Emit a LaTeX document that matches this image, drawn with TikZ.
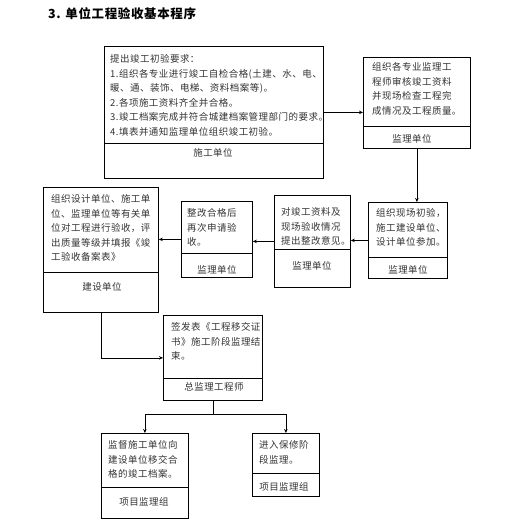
\documentclass[tikz,border=0pt]{standalone}
\usepackage{fontspec}
\newfontfamily\cjk[LetterSpace=5]{Noto Sans CJK SC}
\usetikzlibrary{arrows.meta}

\tikzset{
  stagebox/.style={draw, rectangle, anchor=north west, inner sep=0pt, line width=0.8pt},
  stagetext/.style={anchor=north west, inner sep=0pt, align=left, text=black!80,
    font=\cjk\fontsize{9.5}{14.5}\selectfont},
  unitlabel/.style={inner sep=0pt, text=black!80, font=\cjk\fontsize{9.5}{11}\selectfont},
  flow/.style={-{Stealth[length=4pt, width=3.5pt]}, line width=0.7pt},
}

\begin{document}
\begin{tikzpicture}[x=1pt, y=-1pt]
    \useasboundingbox (0,0) rectangle (505,524);

    % title
    \node[anchor=west, inner sep=0pt, font=\cjk\bfseries\fontsize{12.5}{14}\selectfont]
        (title) at (48,14) {3. 单位工程验收基本程序};

    % boxes
    \node[stagebox, minimum width=219, minimum height=132] (sg) at (104,46) {};
    \node[stagebox, minimum width=107, minimum height=91] (jl) at (363,57) {};
    \node[stagebox, minimum width=79, minimum height=76] (cy) at (368,202) {};
    \node[stagebox, minimum width=76, minimum height=92] (zg) at (274,195) {};
    \node[stagebox, minimum width=71, minimum height=76] (fy) at (181,201) {};
    \node[stagebox, minimum width=115, minimum height=125] (ys) at (43,187) {};
    \node[stagebox, minimum width=99, minimum height=85] (qs) at (163,315) {};
    \node[stagebox, minimum width=87, minimum height=85] (jd) at (101,433) {};
    \node[stagebox, minimum width=67, minimum height=63] (bx) at (252,433) {};

    % dividers
    \draw[line width=0.8pt] (104,143) -- (323,143);
    \draw[line width=0.8pt] (363,126) -- (470,126);
    \draw[line width=0.8pt] (368,257) -- (447,257);
    \draw[line width=0.8pt] (274,249) -- (350,249);
    \draw[line width=0.8pt] (181,253) -- (252,253);
    \draw[line width=0.8pt] (43,272) -- (158,272);
    \draw[line width=0.8pt] (163,378) -- (262,378);
    \draw[line width=0.8pt] (101,487) -- (188,487);
    \draw[line width=0.8pt] (252,473) -- (319,473);

    % texts
    \node[stagetext] (sg-t) at (110,54.5) {提出竣工初验要求：\\
        1.组织各专业进行竣工自检合格(土建、水、电、\\
        暖、通、装饰、电梯、资料档案等)。\\
        2.各项施工资料齐全并合格。\\
        3.竣工档案完成并符合城建档案管理部门的要求。\\
        4.填表并通知监理单位组织竣工初验。};
    \node[stagetext] (jl-t) at (372,62.5) {组织各专业监理工\\程师审核竣工资料\\并现场检查工程完\\成情况及工程质量。};
    \node[stagetext] (cy-t) at (376,208.5) {组织现场初验，\\施工建设单位、\\设计单位参加。};
    \node[stagetext] (zg-t) at (281,207.5) {对竣工资料及\\现场验收情况\\提出整改意见。};
    \node[stagetext] (fy-t) at (187,208.5) {整改合格后\\再次申请验\\收。};
    \node[stagetext] (ys-t) at (51,194.5) {组织设计单位、施工单\\位、监理单位等有关单\\位对工程进行验收，评\\出质量等级并填报《竣\\工验收备案表》};
    \node[stagetext] (qs-t) at (171,322.5) {签发表《工程移交证\\书》施工阶段监理结\\束。};
    \node[stagetext] (jd-t) at (108,440.5) {监督施工单位向\\建设单位移交合\\格的竣工档案。};
    \node[stagetext] (bx-t) at (259,440.5) {进入保修阶\\段监理。};

    % units
    \node[unitlabel] (sg-u) at (213,153) {施工单位};
    \node[unitlabel] (jl-u) at (412,139) {监理单位};
    \node[unitlabel] (cy-u) at (408,270) {监理单位};
    \node[unitlabel] (zg-u) at (312,266) {监理单位};
    \node[unitlabel] (fy-u) at (217,270) {监理单位};
    \node[unitlabel] (ys-u) at (102,287) {建设单位};
    \node[unitlabel] (qs-u) at (214,387) {总监理工程师};
    \node[unitlabel] (jd-u) at (144,502) {项目监理组};
    \node[unitlabel] (bx-u) at (284,487) {项目监理组};

    % connectors
    \draw[flow] (sg.east) -- (sg.east -| jl.west);
    \draw[flow] (jl.south) -- (jl.south |- cy.north);
    \draw[flow] (cy.west) -- (cy.west -| zg.east);
    \draw[flow] (zg.west) -- (zg.west -| fy.east);
    \draw[flow] (fy.west) -- (fy.west -| ys.east);
    \draw[flow] (ys.south) |- (qs.west);
    \coordinate (fork) at (qs.south |- 0,414);
    \draw[line width=0.7pt] (qs.south) -- (fork);
    \draw[flow] (fork) -| (jd.north);
    \draw[flow] (fork) -| (bx.north);
\end{tikzpicture}
\end{document}
